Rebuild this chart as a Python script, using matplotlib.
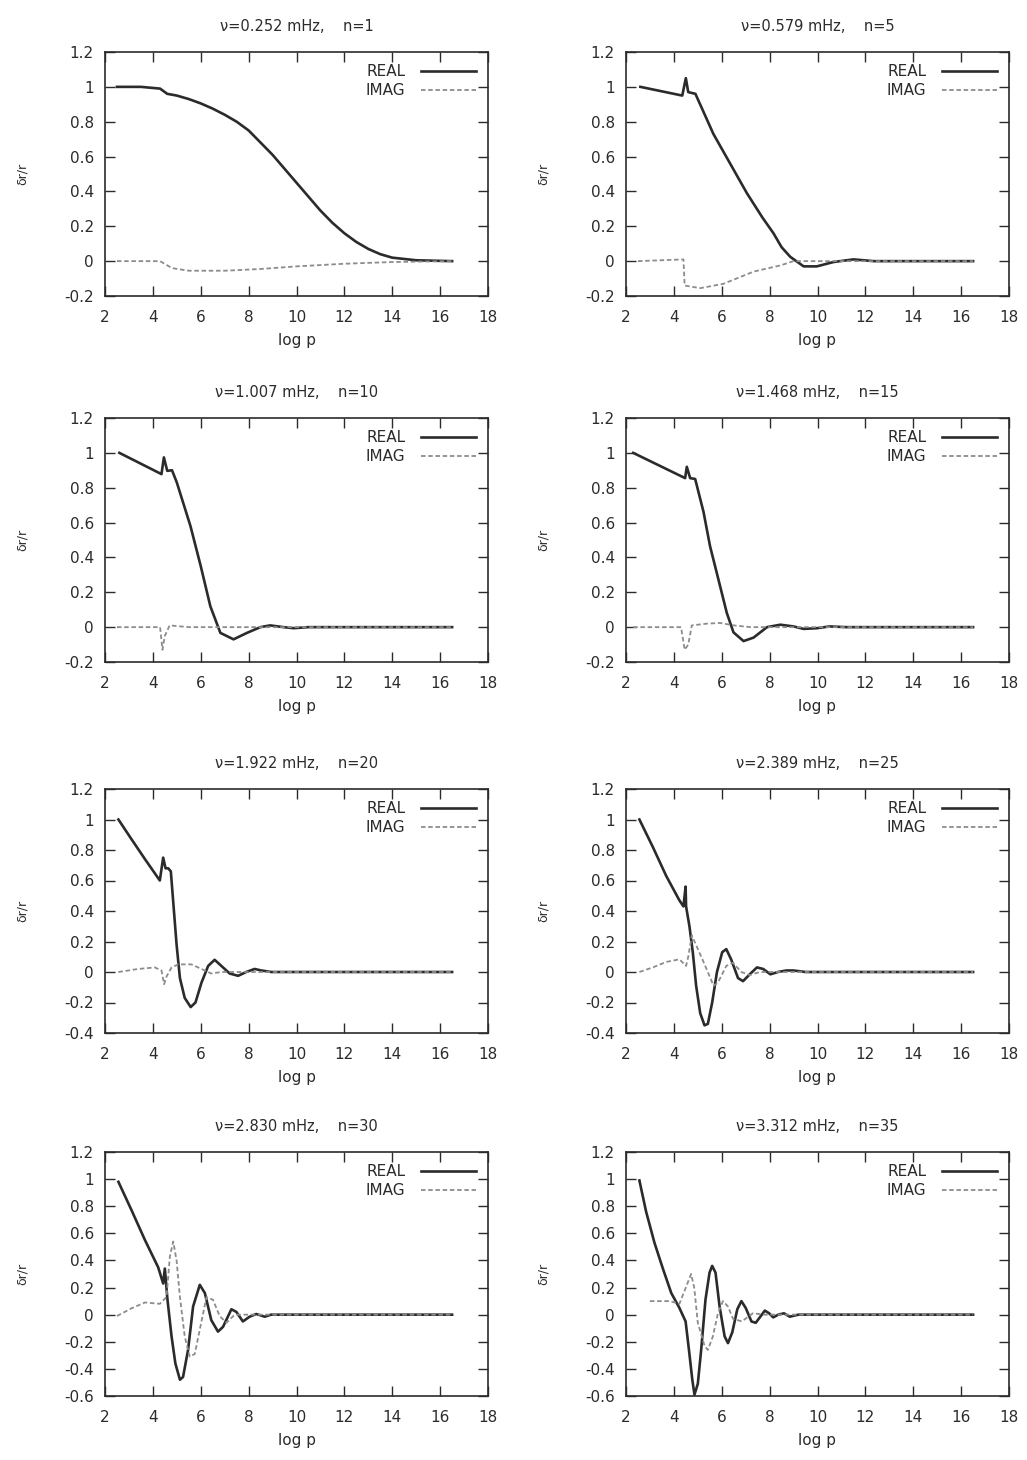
import numpy as np
import matplotlib
matplotlib.use('Agg')
import matplotlib.pyplot as plt
from matplotlib.ticker import FuncFormatter, MultipleLocator

plt.rcParams['font.family'] = ['DejaVu Sans']

# Mode labels: frequency (mHz) and radial order
freqs = ['0.252', '0.579', '1.007', '1.468', '1.922', '2.389', '2.830', '3.312']
orders = [1, 5, 10, 15, 20, 25, 30, 35]
ymins = [-0.2, -0.2, -0.2, -0.2, -0.4, -0.4, -0.6, -0.6]

# n = 1
real_x_1 = [2.5, 3.5, 4.3, 4.6, 5, 5.5, 6, 6.5, 7, 7.5, 8, 8.5, 9, 9.5, 10, 10.5, 11, 11.5, 12, 12.5, 13, 13.5, 14, 15, 16.5]
real_y_1 = [1.0, 1.0, 0.99, 0.96, 0.95, 0.93, 0.905, 0.875, 0.84, 0.8, 0.75, 0.68, 0.61, 0.53, 0.45, 0.37, 0.29, 0.22, 0.16, 0.11, 0.07, 0.04, 0.02, 0.005, 0]
imag_x_1 = [2.5, 4.3, 4.8, 5.5, 7, 8.5, 10, 12, 14, 16.5]
imag_y_1 = [0, 0, -0.04, -0.055, -0.055, -0.045, -0.03, -0.015, -0.005, 0]

# n = 5
real_x_5 = [2.6, 4.35, 4.5, 4.6, 4.9, 5.65, 7.05, 7.7, 8.16, 8.5, 8.86, 9.42, 9.97, 10.67, 11.5, 12.35, 16.5]
real_y_5 = [1.0, 0.95, 1.05, 0.97, 0.96, 0.73, 0.39, 0.25, 0.16, 0.08, 0.025, -0.03, -0.03, -0.005, 0.01, 0.0, 0]
imag_x_5 = [2.5, 4.4, 4.45, 5.1, 6.07, 7.33, 8.44, 9.0, 16.5]
imag_y_5 = [0, 0.01, -0.14, -0.155, -0.13, -0.06, -0.025, 0, 0]

# n = 10
real_x_10 = [2.6, 4.36, 4.46, 4.6, 4.8, 5.0, 5.57, 6.0, 6.4, 6.82, 7.37, 7.93, 8.49, 8.9, 9.46, 9.88, 10.5, 16.5]
real_y_10 = [1.0, 0.878, 0.974, 0.897, 0.9, 0.83, 0.58, 0.35, 0.12, -0.033, -0.07, -0.033, 0.0, 0.01, 0.0, -0.006, 0, 0]
imag_x_10 = [2.5, 4.3, 4.4, 4.5, 4.7, 5.5, 16.5]
imag_y_10 = [0, 0, -0.13, -0.05, 0.01, 0.0, 0]

# n = 15
real_x_15 = [2.3, 4.47, 4.54, 4.68, 4.89, 5.24, 5.51, 5.86, 6.21, 6.49, 6.91, 7.33, 7.89, 8.45, 9.0, 9.42, 9.98, 10.5, 11.2, 16.5]
real_y_15 = [1.0, 0.855, 0.92, 0.855, 0.85, 0.66, 0.465, 0.274, 0.082, -0.03, -0.08, -0.06, 0.0, 0.014, 0.004, -0.01, -0.006, 0.004, 0, 0]
imag_x_15 = [2.3, 4.3, 4.45, 4.6, 4.75, 5.37, 5.93, 6.5, 7.2, 16.5]
imag_y_15 = [0, 0, -0.13, -0.1, 0.01, 0.02, 0.024, 0.01, 0, 0]

# n = 20
real_x_20 = [2.56, 3.11, 3.67, 4.29, 4.43, 4.53, 4.64, 4.75, 4.85, 4.99, 5.13, 5.33, 5.58, 5.78, 6.03, 6.31, 6.58, 6.86, 7.21, 7.56, 7.9, 8.25, 8.53, 8.94, 16.5]
real_y_20 = [1.0, 0.87, 0.74, 0.6, 0.75, 0.68, 0.68, 0.66, 0.46, 0.18, -0.04, -0.17, -0.23, -0.2, -0.07, 0.04, 0.08, 0.04, -0.01, -0.025, 0.0, 0.02, 0.01, 0, 0]
imag_x_20 = [2.56, 3.39, 4.08, 4.36, 4.47, 4.57, 4.78, 5.06, 5.61, 6.03, 6.44, 6.86, 16.5]
imag_y_20 = [0, 0.02, 0.03, 0.01, -0.08, -0.03, 0.03, 0.05, 0.05, 0.02, -0.01, 0, 0]

# n = 25
real_x_25 = [2.56, 3.12, 3.68, 4.23, 4.4, 4.49, 4.51, 4.65, 4.79, 4.93, 5.1, 5.28, 5.42, 5.6, 5.8, 6.02, 6.19, 6.4, 6.68, 6.89, 7.17, 7.47, 7.73, 8.03, 8.35, 8.7, 8.98, 9.5, 16.5]
real_y_25 = [1.0, 0.82, 0.63, 0.47, 0.43, 0.56, 0.43, 0.3, 0.13, -0.09, -0.27, -0.35, -0.34, -0.2, 0.0, 0.13, 0.15, 0.08, -0.04, -0.06, -0.015, 0.03, 0.02, -0.015, 0, 0.01, 0.01, 0, 0]
imag_x_25 = [2.56, 3.12, 3.68, 4.23, 4.51, 4.6, 4.75, 5.2, 5.66, 5.84, 6.19, 6.47, 6.82, 7.17, 7.6, 16.5]
imag_y_25 = [0, 0.03, 0.066, 0.083, 0.04, 0.1, 0.24, 0.08, -0.09, -0.07, 0.04, 0.06, 0.0, -0.02, 0, 0]

# n = 30
real_x_30 = [2.56, 3.11, 3.67, 4.22, 4.43, 4.5, 4.61, 4.78, 4.94, 5.13, 5.26, 5.47, 5.68, 5.96, 6.17, 6.44, 6.72, 6.93, 7.28, 7.49, 7.76, 8.04, 8.32, 8.67, 8.94, 16.5]
real_y_30 = [0.98, 0.77, 0.55, 0.35, 0.23, 0.34, 0.11, -0.16, -0.36, -0.48, -0.46, -0.26, 0.06, 0.22, 0.16, -0.04, -0.125, -0.09, 0.04, 0.02, -0.05, -0.015, 0.005, -0.015, 0, 0]
imag_x_30 = [2.5, 3.11, 3.67, 4.29, 4.57, 4.71, 4.85, 4.99, 5.13, 5.33, 5.54, 5.75, 5.96, 6.24, 6.51, 6.79, 7.07, 7.42, 16.5]
imag_y_30 = [-0.01, 0.047, 0.09, 0.08, 0.13, 0.43, 0.54, 0.4, 0.13, -0.16, -0.31, -0.29, -0.11, 0.13, 0.11, -0.01, -0.06, 0, 0]

# n = 35
real_x_35 = [2.56, 2.84, 3.19, 3.54, 3.89, 4.23, 4.49, 4.63, 4.77, 4.86, 5.0, 5.14, 5.32, 5.49, 5.6, 5.74, 5.91, 6.12, 6.26, 6.44, 6.65, 6.82, 7.0, 7.24, 7.42, 7.59, 7.8, 7.98, 8.15, 8.36, 8.6, 8.84, 9.2, 16.5]
real_y_35 = [0.99, 0.76, 0.53, 0.34, 0.16, 0.05, -0.05, -0.26, -0.48, -0.59, -0.51, -0.26, 0.11, 0.31, 0.36, 0.31, 0.06, -0.16, -0.21, -0.13, 0.04, 0.1, 0.05, -0.05, -0.06, -0.02, 0.03, 0.01, -0.02, 0.0, 0.01, -0.015, 0, 0]
imag_x_35 = [3.0, 3.19, 3.82, 4.23, 4.5, 4.72, 4.85, 5.0, 5.28, 5.42, 5.63, 5.84, 6.05, 6.26, 6.47, 6.84, 7.3, 7.8, 16.5]
imag_y_35 = [0.1, 0.1, 0.1, 0.08, 0.2, 0.3, 0.2, -0.06, -0.23, -0.26, -0.16, 0.01, 0.1, 0.06, -0.03, -0.05, 0.01, 0, 0]

real_x = [real_x_1, real_x_5, real_x_10, real_x_15, real_x_20, real_x_25, real_x_30, real_x_35]
real_y = [real_y_1, real_y_5, real_y_10, real_y_15, real_y_20, real_y_25, real_y_30, real_y_35]
imag_x = [imag_x_1, imag_x_5, imag_x_10, imag_x_15, imag_x_20, imag_x_25, imag_x_30, imag_x_35]
imag_y = [imag_y_1, imag_y_5, imag_y_10, imag_y_15, imag_y_20, imag_y_25, imag_y_30, imag_y_35]

W, H = 1027, 1460
fig = plt.figure(figsize=(W / 100, H / 100), dpi=100)

col_left = [105, 626]
col_width = 383
row_bottom = [296, 662, 1033, 1396]
ax_height = 244

ink = '#2b2b2b'
fmt = FuncFormatter(lambda v, p: '%g' % round(v, 2))

for i in range(8):
    r, c = i // 2, i % 2
    ax = fig.add_axes([col_left[c] / W, 1 - row_bottom[r] / H, col_width / W, ax_height / H])
    ax.plot(real_x[i], real_y[i], color=ink, lw=1.9, label='REAL')
    ax.plot(imag_x[i], imag_y[i], color='#8c8c8c', lw=1.3, ls=(0, (2.5, 1.5)), label='IMAG')

    ax.set_xlim(2, 18)
    ax.set_ylim(ymins[i], 1.2)
    ax.xaxis.set_major_locator(MultipleLocator(2))
    ax.yaxis.set_major_locator(MultipleLocator(0.2))
    ax.yaxis.set_major_formatter(fmt)
    ax.tick_params(direction='in', length=7, width=1.0, top=True, right=True, colors=ink, labelsize=11)
    ax.tick_params(axis='x', pad=10)
    ax.tick_params(axis='y', pad=8)
    for s in ax.spines.values():
        s.set_color(ink)
        s.set_linewidth(1.2)

    ax.set_title('ν=%s mHz,    n=%d' % (freqs[i], orders[i]), fontsize=10.5, color=ink, pad=15)
    ax.set_xlabel('log p', fontsize=11, color=ink, labelpad=6)
    ax.set_ylabel('δr/r', fontsize=9, color=ink)
    ax.yaxis.set_label_coords(-0.2, 0.5)

    ax.legend(loc='upper right', frameon=False, markerfirst=False, fontsize=11,
              handlelength=3.6, handletextpad=1.0, labelspacing=0.25,
              borderaxespad=0.3, borderpad=0.5, labelcolor=ink)

fig.savefig('out.png', dpi=100, facecolor='white')
